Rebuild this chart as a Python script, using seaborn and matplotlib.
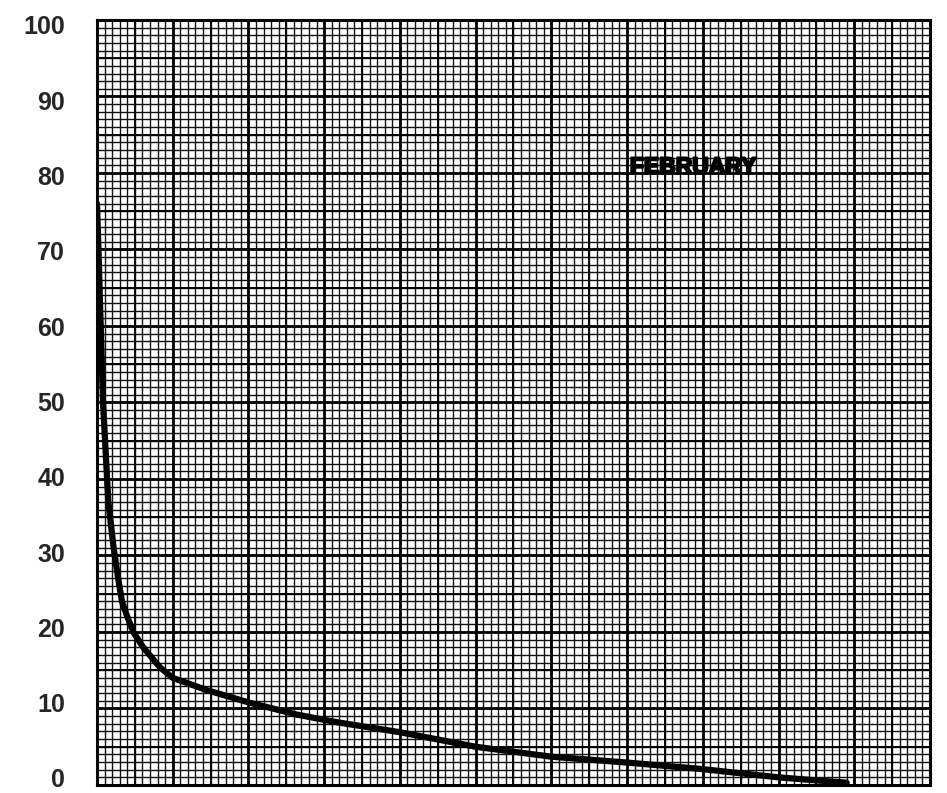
import numpy as np
import pandas as pd
import matplotlib
matplotlib.use("Agg")
import matplotlib.pyplot as plt
import matplotlib.transforms as mtransforms
import matplotlib.patheffects as pe
import seaborn as sns

# -- Data (x in major grid divisions) ---------------------------------------
x_vals = [0.0, 0.02, 0.04, 0.08, 0.15, 0.22, 0.28, 0.33, 0.40, 0.48, 0.61,
          0.83, 1.0, 1.45, 2.0, 2.64, 3.17, 4.0, 5.0, 6.0, 7.04, 7.97,
          9.0, 9.5, 9.9]
y_vals = [76.0, 70.0, 63.0, 50.0, 37.0, 31.0, 27.0, 24.0, 22.0, 20.0, 18.0,
          15.4, 14.0, 12.4, 10.8, 9.2, 8.2, 6.9, 5.0, 3.7, 2.9, 2.1,
          1.0, 0.6, 0.3]
y_ticks = list(range(0, 101, 10))
label_text = "FEBRUARY"

curve = pd.DataFrame({"x": x_vals, "y": y_vals})

# -- Setup -------------------------------------------------------------------
sns.set_theme(style="white")
plt.rcParams["font.family"] = ["Liberation Sans", "DejaVu Sans"]

fig = plt.figure(figsize=(9.47, 7.93), dpi=100)
ax = fig.add_axes([0.1024, 0.0101, 0.8796, 0.9647])

x_max = 11
ax.set_xlim(0, x_max)
ax.set_ylim(0, 100)

# graph paper: fine, medium and heavy rulings
for xv in np.arange(0, x_max + 0.001, 0.1):
    ax.axvline(xv, color="#111111", lw=1.0, zorder=1)
for yv in np.arange(0, 100.001, 1):
    ax.axhline(yv, color="#111111", lw=1.0, zorder=1)
for xv in np.arange(0.5, x_max, 1):
    ax.axvline(xv, color="black", lw=1.4, zorder=1)
for yv in np.arange(5, 100, 10):
    ax.axhline(yv, color="black", lw=1.4, zorder=1)
for xv in np.arange(0, x_max + 0.001, 1):
    ax.axvline(xv, color="black", lw=2.0, zorder=2)
for yv in y_ticks:
    ax.axhline(yv, color="black", lw=2.0, zorder=2)

sns.lineplot(data=curve, x="x", y="y", color="black", lw=4.5,
             solid_capstyle="round", ax=ax, zorder=5)

ax.text(7.87, 80.8, label_text, fontsize=16.5, fontweight="bold",
        ha="center", va="center", color="black", zorder=6,
        path_effects=[pe.withStroke(linewidth=1.6, foreground="black")])

ax.set_xticks([])
ax.set_yticks(y_ticks)
ax.set_yticklabels([str(t) for t in y_ticks], fontsize=18, fontweight="bold")
ax.tick_params(axis="y", length=0, pad=23)
# the printed labels sit slightly inside the ruled range
for tick_val, lbl in zip(y_ticks, ax.get_yticklabels()):
    dy = (7 - 12 * tick_val / 100) / 100
    lbl.set_transform(lbl.get_transform() +
                      mtransforms.ScaledTranslation(0, dy, fig.dpi_scale_trans))
ax.set_xlabel("")
ax.set_ylabel("")
for spine in ax.spines.values():
    spine.set_color("black")
    spine.set_linewidth(2.2)

fig.savefig("out.png", dpi=100)
